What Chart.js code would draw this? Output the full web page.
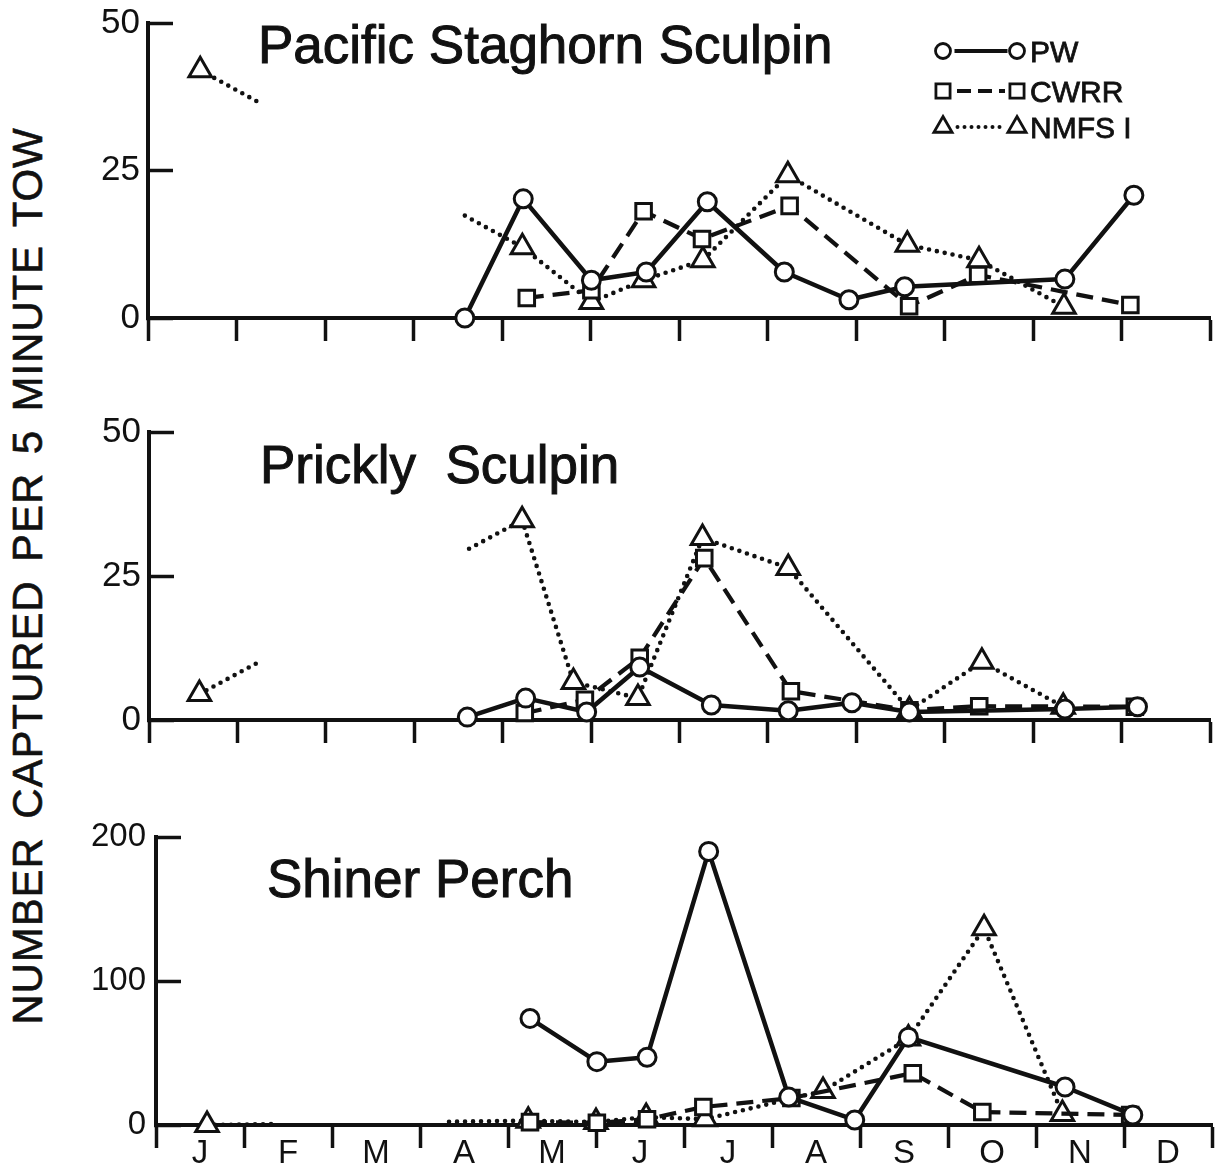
<!DOCTYPE html>
<html>
<head>
<meta charset="utf-8">
<title>Catch per 5 minute tow</title>
<script src="https://cdn.jsdelivr.net/npm/chart.js@4.4.1/dist/chart.umd.min.js"></script>
<style>
  body { margin: 0; background: #fff; width: 1215px; height: 1172px; position: relative; overflow: hidden;
         font-family: 'Liberation Sans', Arial, sans-serif; }
  .panel { position: absolute; left: 0; width: 1215px; }
  #ytitle { position: absolute; left: 28px; top: 576px; font-size: 42px; line-height: 1; white-space: nowrap;
            letter-spacing: 0.9px; word-spacing: 6px; color: #111; -webkit-text-stroke: 0.6px #111;
            transform: translate(-50%, -50%) rotate(-90deg); }
</style>
</head>
<body>
<div id="ytitle">NUMBER CAPTURED PER 5 MINUTE TOW</div>
<div class="panel" style="top:0;height:360px"><canvas id="pss"></canvas></div>
<div class="panel" style="top:400px;height:360px"><canvas id="ps"></canvas></div>
<div class="panel" style="top:800px;height:372px"><canvas id="sp"></canvas></div>
<script>
// x = months from 1 January (0..12), y = number captured per 5 minute tow
const MONTHS = ['J', 'F', 'M', 'A', 'M', 'J', 'J', 'A', 'S', 'O', 'N', 'D'];

// Pacific Staghorn Sculpin
const pssPwMonth = [3.58, 4.24, 5.01, 5.63, 6.32, 7.19, 7.92, 8.55, 10.36, 11.14];
const pssPwCount = [0, 20.2, 6.4, 7.8, 19.7, 7.8, 3.1, 5.3, 6.6, 20.8];
const pssCwrrMonth = [4.28, 5.01, 5.6, 6.26, 7.25, 8.6, 9.38, 11.1];
const pssCwrrCount = [3.4, 4.7, 18.1, 13.4, 19, 2.0, 7.3, 2.2];
const pssNmfsMonth = [0.59, 4.23, 5.01, 5.6, 6.27, 7.23, 8.58, 9.39, 10.35];
const pssNmfsCount = [42, 12.0, 2.7, 6.4, 9.8, 24.2, 12.4, 9.8, 1.9];

// Prickly Sculpin
const psPwMonth = [3.6, 4.26, 4.95, 5.55, 6.36, 7.23, 7.95, 8.6, 10.36, 11.18];
const psPwCount = [0.5, 3.8, 1.4, 9.2, 2.6, 1.6, 3.0, 1.4, 1.9, 2.3];
const psCwrrMonth = [4.25, 4.93, 5.55, 6.28, 7.26, 8.6, 9.39, 11.15];
const psCwrrCount = [1.2, 3.5, 10.8, 28.1, 5.0, 1.7, 2.4, 2.3];
const psNmfsMonth = [0.57, 4.22, 4.8, 5.53, 6.26, 7.23, 8.6, 9.42, 10.34];
const psNmfsCount = [4.5, 34.7, 6.6, 3.8, 31.6, 26.4, 1.7, 10.1, 2.3];

// Shiner Perch
const spPwMonth = [4.25, 5.01, 5.58, 6.28, 7.19, 7.94, 8.55, 10.33, 11.1];
const spPwCount = [74, 44, 47, 190, 19.4, 3.5, 61, 26.4, 7];
const spCwrrMonth = [4.25, 5.01, 5.58, 6.22, 7.22, 8.6, 9.39, 11.07];
const spCwrrCount = [2, 1.5, 4, 12.5, 18.7, 36, 9, 7];
const spNmfsMonth = [0.58, 4.23, 5.0, 5.57, 6.24, 7.58, 8.55, 9.41, 10.3];
const spNmfsCount = [0, 3, 2, 5.5, 4, 23.6, 60, 136.6, 7.7];

const INK = '#111';
const DOT = 8;
Chart.defaults.font.family = "'Liberation Sans', Arial, sans-serif";

const STYLE = {
  'PW':     { dash: [], marker: 'circle', radius: 9, width: 4.5 },
  'CWRR':   { dash: [17, 9], marker: 'rect', radius: 11, width: 4.2 },
  'NMFS I': { dash: [0, DOT], marker: 'triangle', radius: 13, width: 4.6 }
};

let zip = (xs, ys) => xs.map((x, i) => ({ x: x, y: ys[i] }));

// dotted line with a break in it (winter months not drawn)
function gapDash(ctx, gap) {
  const xs = ctx.chart.scales.x;
  const p0 = ctx.p0, p1 = ctx.p1;
  const g0 = xs.getPixelForValue(gap[0]), g1 = xs.getPixelForValue(gap[1]);
  if (!(p0.x < g0 && p1.x > g1)) return undefined;
  const dx = p1.x - p0.x, L = Math.hypot(dx, p1.y - p0.y);
  const a = (g0 - p0.x) / dx * L, b = (g1 - p0.x) / dx * L;
  const out = [];
  const n = Math.floor(a / DOT) + 1;
  for (let i = 0; i < n; i++) out.push(0, DOT);
  out[out.length - 1] = b - (n - 1) * DOT;
  const m = Math.floor((L - b) / DOT) + 1;
  for (let i = 0; i < m; i++) out.push(0, DOT);
  out.push(0, 2000);
  return out;
}

function series(label, data, gap) {
  const s = STYLE[label];
  const ds = {
    label: label,
    data: data,
    borderColor: INK,
    borderWidth: s.width,
    borderDash: s.dash,
    borderCapStyle: label == 'NMFS I' ? 'round' : 'butt',
    borderJoinStyle: 'round',
    pointStyle: s.marker,
    pointRadius: s.radius,
    pointBorderWidth: 3,
    pointBackgroundColor: '#fff',
    pointBorderColor: INK,
    tension: 0,
    clip: false
  };
  if (gap) ds.segment = { borderDash: ctx => gapDash(ctx, gap) };
  return ds;
}

const titlePlugin = {
  id: 'panelTitle',
  afterDraw(chart) {
    const o = chart.options.plugins.panelTitle;
    const c = chart.ctx;
    c.save();
    c.fillStyle = INK;
    c.strokeStyle = INK;
    c.lineWidth = 1;
    c.font = '53px ' + Chart.defaults.font.family;
    c.textBaseline = 'alphabetic';
    c.fillText(o.text, o.x, o.y);
    c.strokeText(o.text, o.x, o.y);
    c.restore();
  }
};

const keyPlugin = {
  id: 'seriesKey',
  afterDraw(chart) {
    const o = chart.options.plugins.seriesKey;
    if (!o || !o.show) return;
    const c = chart.ctx;
    const rows = [['PW', 51, 7.5], ['CWRR', 91, 10], ['NMFS I', 127, 10.5]];
    c.save();
    rows.forEach(r => {
      const s = STYLE[r[0]];
      const x0 = 943, x1 = 1017, y = r[1];
      c.strokeStyle = INK;
      c.lineWidth = 4;
      c.lineCap = r[0] == 'NMFS I' ? 'round' : 'butt';
      c.setLineDash(r[0] == 'NMFS I' ? [0, 7] : (r[0] == 'CWRR' ? [14, 7] : []));
      c.beginPath();
      c.moveTo(x0 + r[2] + 4, y);
      c.lineTo(x1 - r[2] - 2, y);
      c.stroke();
      c.setLineDash([]);
      c.lineWidth = 2.8;
      c.fillStyle = '#fff';
      [x0, x1].forEach(x => {
        Chart.helpers.drawPoint(c, { pointStyle: s.marker, radius: r[2], rotation: 0, borderWidth: 2.8 }, x, y);
      });
      c.fillStyle = INK;
      c.lineWidth = 0.8;
      c.font = '30px ' + Chart.defaults.font.family;
      c.textBaseline = 'alphabetic';
      c.fillText(r[0], 1030, y + 11);
      c.strokeText(r[0], 1030, y + 11);
    });
    c.restore();
  }
};

const xTicks = [];
for (let v = 0; v <= 12; v += 0.5) xTicks.push(v);

function noPad(s) {
  s.paddingTop = 0;
  s.paddingBottom = 0;
  s.paddingLeft = 0;
  s.paddingRight = 0;
}

function makePanel(id, p) {
  new Chart(document.getElementById(id), {
    type: 'line',
    data: {
      datasets: [
        series('PW', zip(p.pw[0], p.pw[1])),
        series('CWRR', zip(p.cwrr[0], p.cwrr[1])),
        series('NMFS I', zip(p.nmfs[0], p.nmfs[1]), p.gap)
      ]
    },
    plugins: [titlePlugin, keyPlugin],
    options: {
      responsive: true,
      maintainAspectRatio: false,
      animation: false,
      events: [],
      layout: { autoPadding: false, padding: { top: p.top, right: 1215 - p.right, left: 0, bottom: 0 } },
      plugins: {
        legend: { display: false },
        tooltip: { enabled: false },
        panelTitle: { text: p.title, x: p.titleX, y: p.titleY },
        seriesKey: { show: !!p.key }
      },
      scales: {
        x: {
          type: 'linear',
          min: 0,
          max: 12,
          afterBuildTicks: s => { s.ticks = xTicks.map(v => ({ value: v })); },
          afterFit: s => { s.height = p.xHeight; noPad(s); },
          border: { display: true, color: INK, width: 4 },
          grid: {
            drawOnChartArea: false,
            drawTicks: true,
            tickLength: 23,
            tickWidth: 3.5,
            tickColor: c => Number.isInteger(c.tick.value) ? INK : 'rgba(0,0,0,0)'
          },
          ticks: {
            autoSkip: false,
            maxRotation: 0,
            padding: -14,
            color: INK,
            font: { size: 33 },
            callback: v => (p.months && !Number.isInteger(v)) ? MONTHS[Math.floor(v)] : ''
          }
        },
        y: {
          min: 0,
          max: p.yMax,
          afterBuildTicks: s => { s.ticks = p.yTicks.map(v => ({ value: v })); },
          afterFit: s => { s.width = p.left; noPad(s); },
          border: { display: true, color: INK, width: 4 },
          grid: { drawOnChartArea: false, drawTicks: true, tickLength: -25, tickWidth: 3.5, tickColor: INK },
          ticks: { padding: 25 + p.labelGap, color: INK, font: { size: p.yFont } }
        }
      }
    }
  });
}

makePanel('pss', {
  title: 'Pacific Staghorn Sculpin', titleX: 258, titleY: 63, key: true,
  pw: [pssPwMonth, pssPwCount], cwrr: [pssCwrrMonth, pssCwrrCount], nmfs: [pssNmfsMonth, pssNmfsCount],
  gap: [1.24, 3.58], yMax: 50, yTicks: [0, 25, 50],
  left: 148, right: 1210, top: 23, xHeight: 42, labelGap: 8, yFont: 35, months: false
});
makePanel('ps', {
  title: 'Prickly  Sculpin', titleX: 260, titleY: 83,
  pw: [psPwMonth, psPwCount], cwrr: [psCwrrMonth, psCwrrCount], nmfs: [psNmfsMonth, psNmfsCount],
  gap: [1.23, 3.62], yMax: 50, yTicks: [0, 25, 50],
  left: 149, right: 1210, top: 32, xHeight: 40, labelGap: 8, yFont: 35, months: false
});
makePanel('sp', {
  title: 'Shiner Perch', titleX: 267, titleY: 97,
  pw: [spPwMonth, spPwCount], cwrr: [spCwrrMonth, spCwrrCount], nmfs: [spNmfsMonth, spNmfsCount],
  gap: [1.39, 3.33], yMax: 200, yTicks: [0, 100, 200],
  left: 156, right: 1212, top: 37, xHeight: 47, labelGap: 10, yFont: 33, months: true
});
</script>
</body>
</html>
